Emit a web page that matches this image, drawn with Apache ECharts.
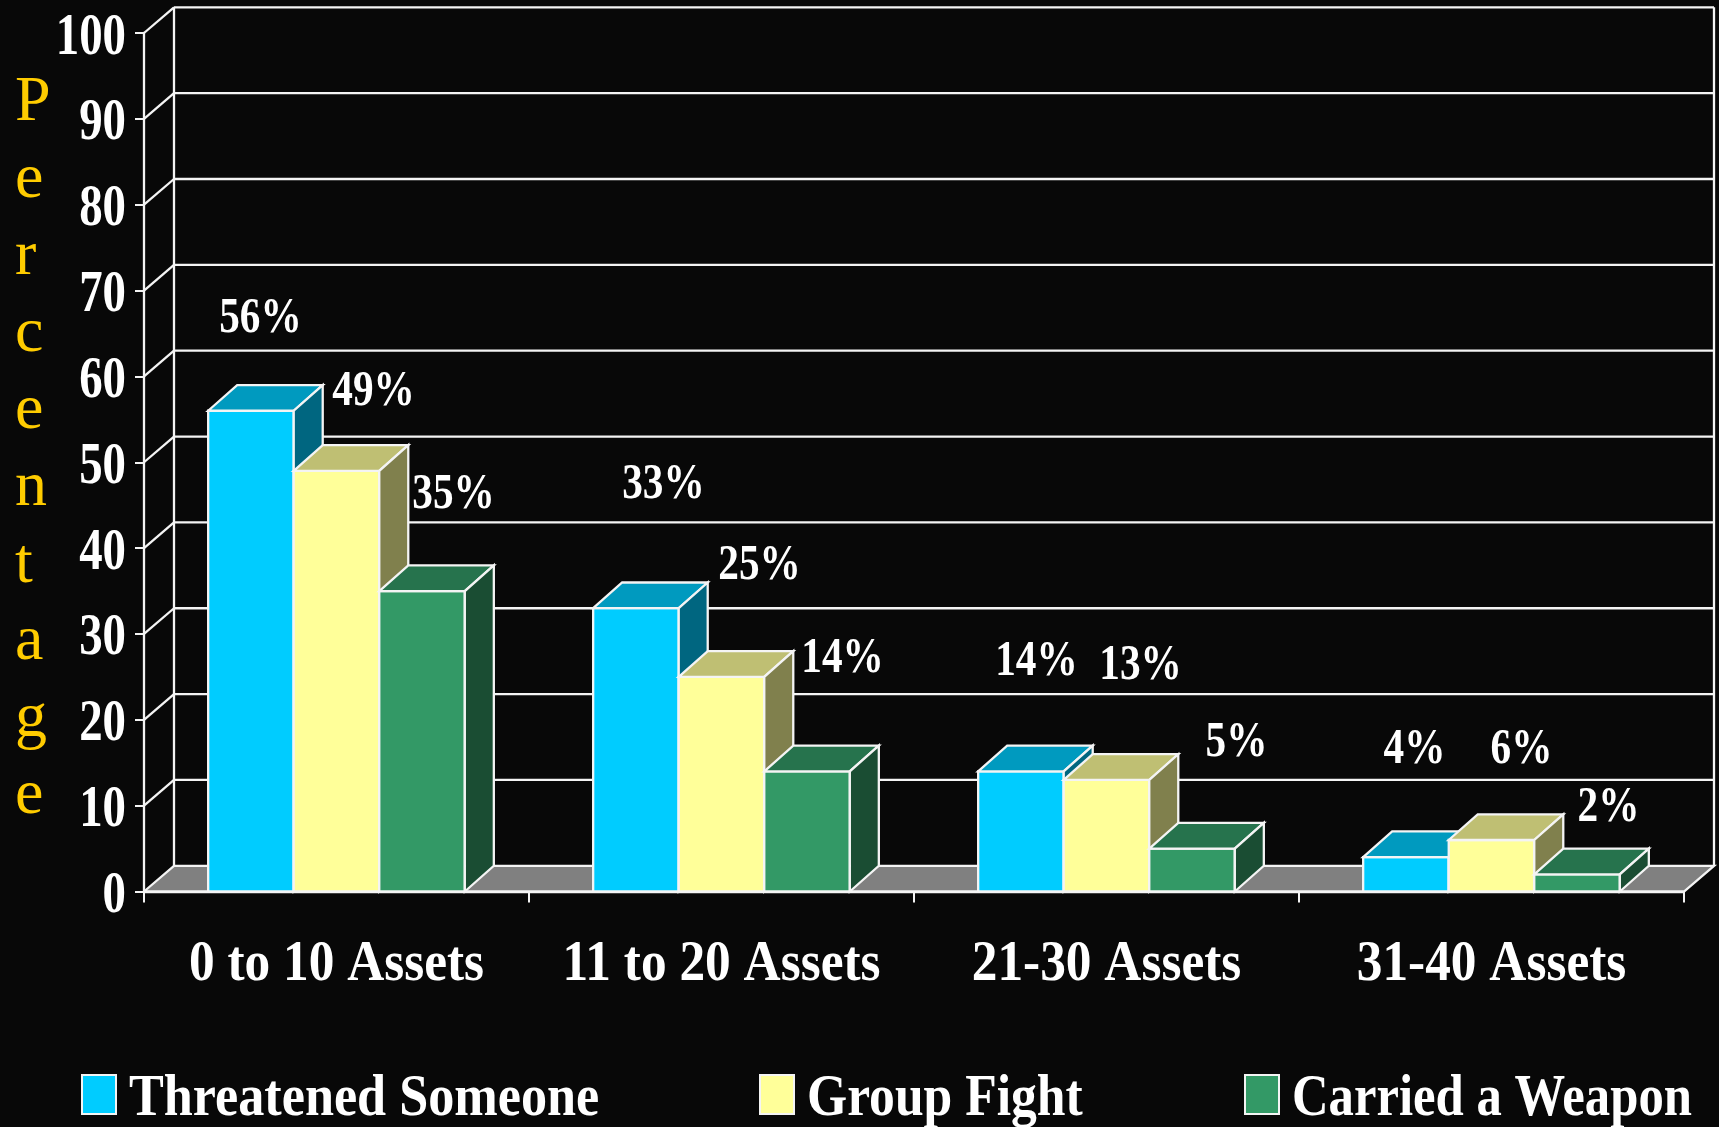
<!DOCTYPE html>
<html><head><meta charset="utf-8">
<style>html,body{margin:0;padding:0;background:#080808}#c{width:1719px;height:1127px}</style>
<script src="https://cdn.jsdelivr.net/npm/echarts@6/dist/echarts.min.js"></script></head>
<body><div id="c"></div>
<script>
const categories = ['0 to 10 Assets','11 to 20 Assets','21-30 Assets','31-40 Assets'];
const threatened = [56,33,14,4];
const groupFight = [49,25,13,6];
const weapon = [35,14,5,2];
const yTicks = [0,10,20,30,40,50,60,70,80,90,100];
const seriesNames = ['Threatened Someone','Group Fight','Carried a Weapon'];
const yTitle = 'P\ne\nr\nc\ne\nn\nt\na\ng\ne';

// label nudges away from the bar top, as placed by the original
const labelNudge = [
  [[9.5,-92],[37,-79],[31.5,-96]],
  [[27.5,-123],[38,-111],[35.5,-112]],
  [[15.5,-109],[34,-114],[44.5,-105]],
  [[8.5,-107],[30,-90],[31.5,-66]]
];
const palette = [
  {front:'#00CCFF',top:'#009ABF',side:'#006680'},
  {front:'#FFFF99',top:'#BFBF73',side:'#80804D'},
  {front:'#339966',top:'#26734D',side:'#1A4D33'}
];
const LINE='#f4f4f4', SERIF='"Liberation Serif"';
const WALL=[30,-25.7], BAR=[29,-25.7];

function poly(points,fill){return {type:'polygon',shape:{points},style:{fill,stroke:LINE,lineWidth:2.3,lineJoin:'miter'}};}
function line(a,b){return {type:'line',shape:{x1:a[0],y1:a[1],x2:b[0],y2:b[1]},style:{stroke:LINE,lineWidth:2.3}};}
function txt(t,x,y,size,sx,align){return {type:'text',x,y,scaleX:sx,style:{text:t,font:'bold '+size+'px '+SERIF,fill:'#fff',align,verticalAlign:'middle'}};}

function barSeries(name,vals,s){
  return {type:'custom',name,z:5,clip:false,
    data:vals.map((v,i)=>[i,v]),encode:{x:0,y:1},
    renderItem(p,api){
      const i=api.value(0),v=api.value(1);
      const band=api.size([1,0])[0],w=band/4.5;
      const c=api.coord([i,v]),b=api.coord([i,0]);
      const x0=c[0]-1.5*w+s*w,x1=x0+w,yT=c[1],yB=b[1];
      const [dx,dy]=BAR,col=palette[s];
      const n=labelNudge[i][s];
      return {type:'group',children:[
        poly([[x0,yB],[x1,yB],[x1,yT],[x0,yT]],col.front),
        poly([[x0,yT],[x1,yT],[x1+dx,yT+dy],[x0+dx,yT+dy]],col.top),
        poly([[x1,yB],[x1+dx,yB+dy],[x1+dx,yT+dy],[x1,yT]],col.side),
        txt(v+'%',x0+w/2+n[0],yT+n[1],50,0.825,'center')
      ]};
    }};
}
const wall={type:'custom',name:'wall',z:1,clip:false,silent:true,
  data:yTicks.map(t=>[0,t]),encode:{x:0,y:1},
  renderItem(p,api){
    const g=p.coordSys,t=api.value(1),y=api.coord([0,t])[1];
    const [dx,dy]=WALL,L=g.x,R=g.x+g.width;
    const kids=[];
    if(t===0){
      kids.push(poly([[L,y],[L+dx,y+dy],[R+dx,y+dy],[R,y]],'#808080'));
      kids.push(line([L+dx,y+dy],[L+dx,g.y+dy]));
      kids.push(line([R+dx,y+dy],[R+dx,g.y+dy]));
    }else{
      kids.push(line([L+dx,y+dy],[R+dx,y+dy]));
      kids.push(line([L,y],[L+dx,y+dy]));
    }
    kids.push(txt(String(t),L-18,y+5,60,0.78,'right'));
    return {type:'group',children:kids};
  }};
const catText={type:'custom',name:'categories',z:6,clip:false,silent:true,
  data:categories.map((c,i)=>[i,0]),encode:{x:0,y:1},
  renderItem(p,api){
    const i=api.value(0),c=api.coord([i,0]);
    return txt(categories[i],c[0],c[1]+74,58,0.885,'center');
  }};

const legendX=[81,759,1244];
const legendScale=[0.87,0.86,0.845];
const graphic=[{type:'text',x:15,y:450,style:{text:yTitle,font:'64px '+SERIF,lineHeight:77,fill:'#FFCC00',align:'left',verticalAlign:'middle'}}];
seriesNames.forEach((n,i)=>{
  graphic.push({type:'rect',left:legendX[i],top:1074,shape:{width:34,height:39},style:{fill:palette[i].front,stroke:LINE,lineWidth:2}});
  graphic.push({type:'text',x:legendX[i]+48,y:1099,scaleX:legendScale[i],style:{text:n,font:'bold 60px '+SERIF,fill:'#fff',align:'left',verticalAlign:'middle'}});
});

const chart=echarts.init(document.getElementById('c'),null,{renderer:'canvas'});
chart.setOption({
  animation:false,backgroundColor:'#080808',
  grid:{left:144,right:35,top:33,bottom:235.5,containLabel:false},
  xAxis:{type:'category',data:categories,boundaryGap:true,
    axisLine:{lineStyle:{color:LINE,width:2.3}},
    axisTick:{show:true,length:11,alignWithLabel:false,lineStyle:{color:LINE,width:2}},
    axisLabel:{show:false},splitLine:{show:false}},
  yAxis:{type:'value',min:0,max:100,interval:10,
    axisLine:{show:true,lineStyle:{color:LINE,width:2.3}},
    axisTick:{show:true,length:9,lineStyle:{color:LINE,width:2}},
    axisLabel:{show:false},splitLine:{show:false}},
  graphic,
  series:[wall,barSeries(seriesNames[0],threatened,0),barSeries(seriesNames[1],groupFight,1),barSeries(seriesNames[2],weapon,2),catText]
});
</script></body></html>
